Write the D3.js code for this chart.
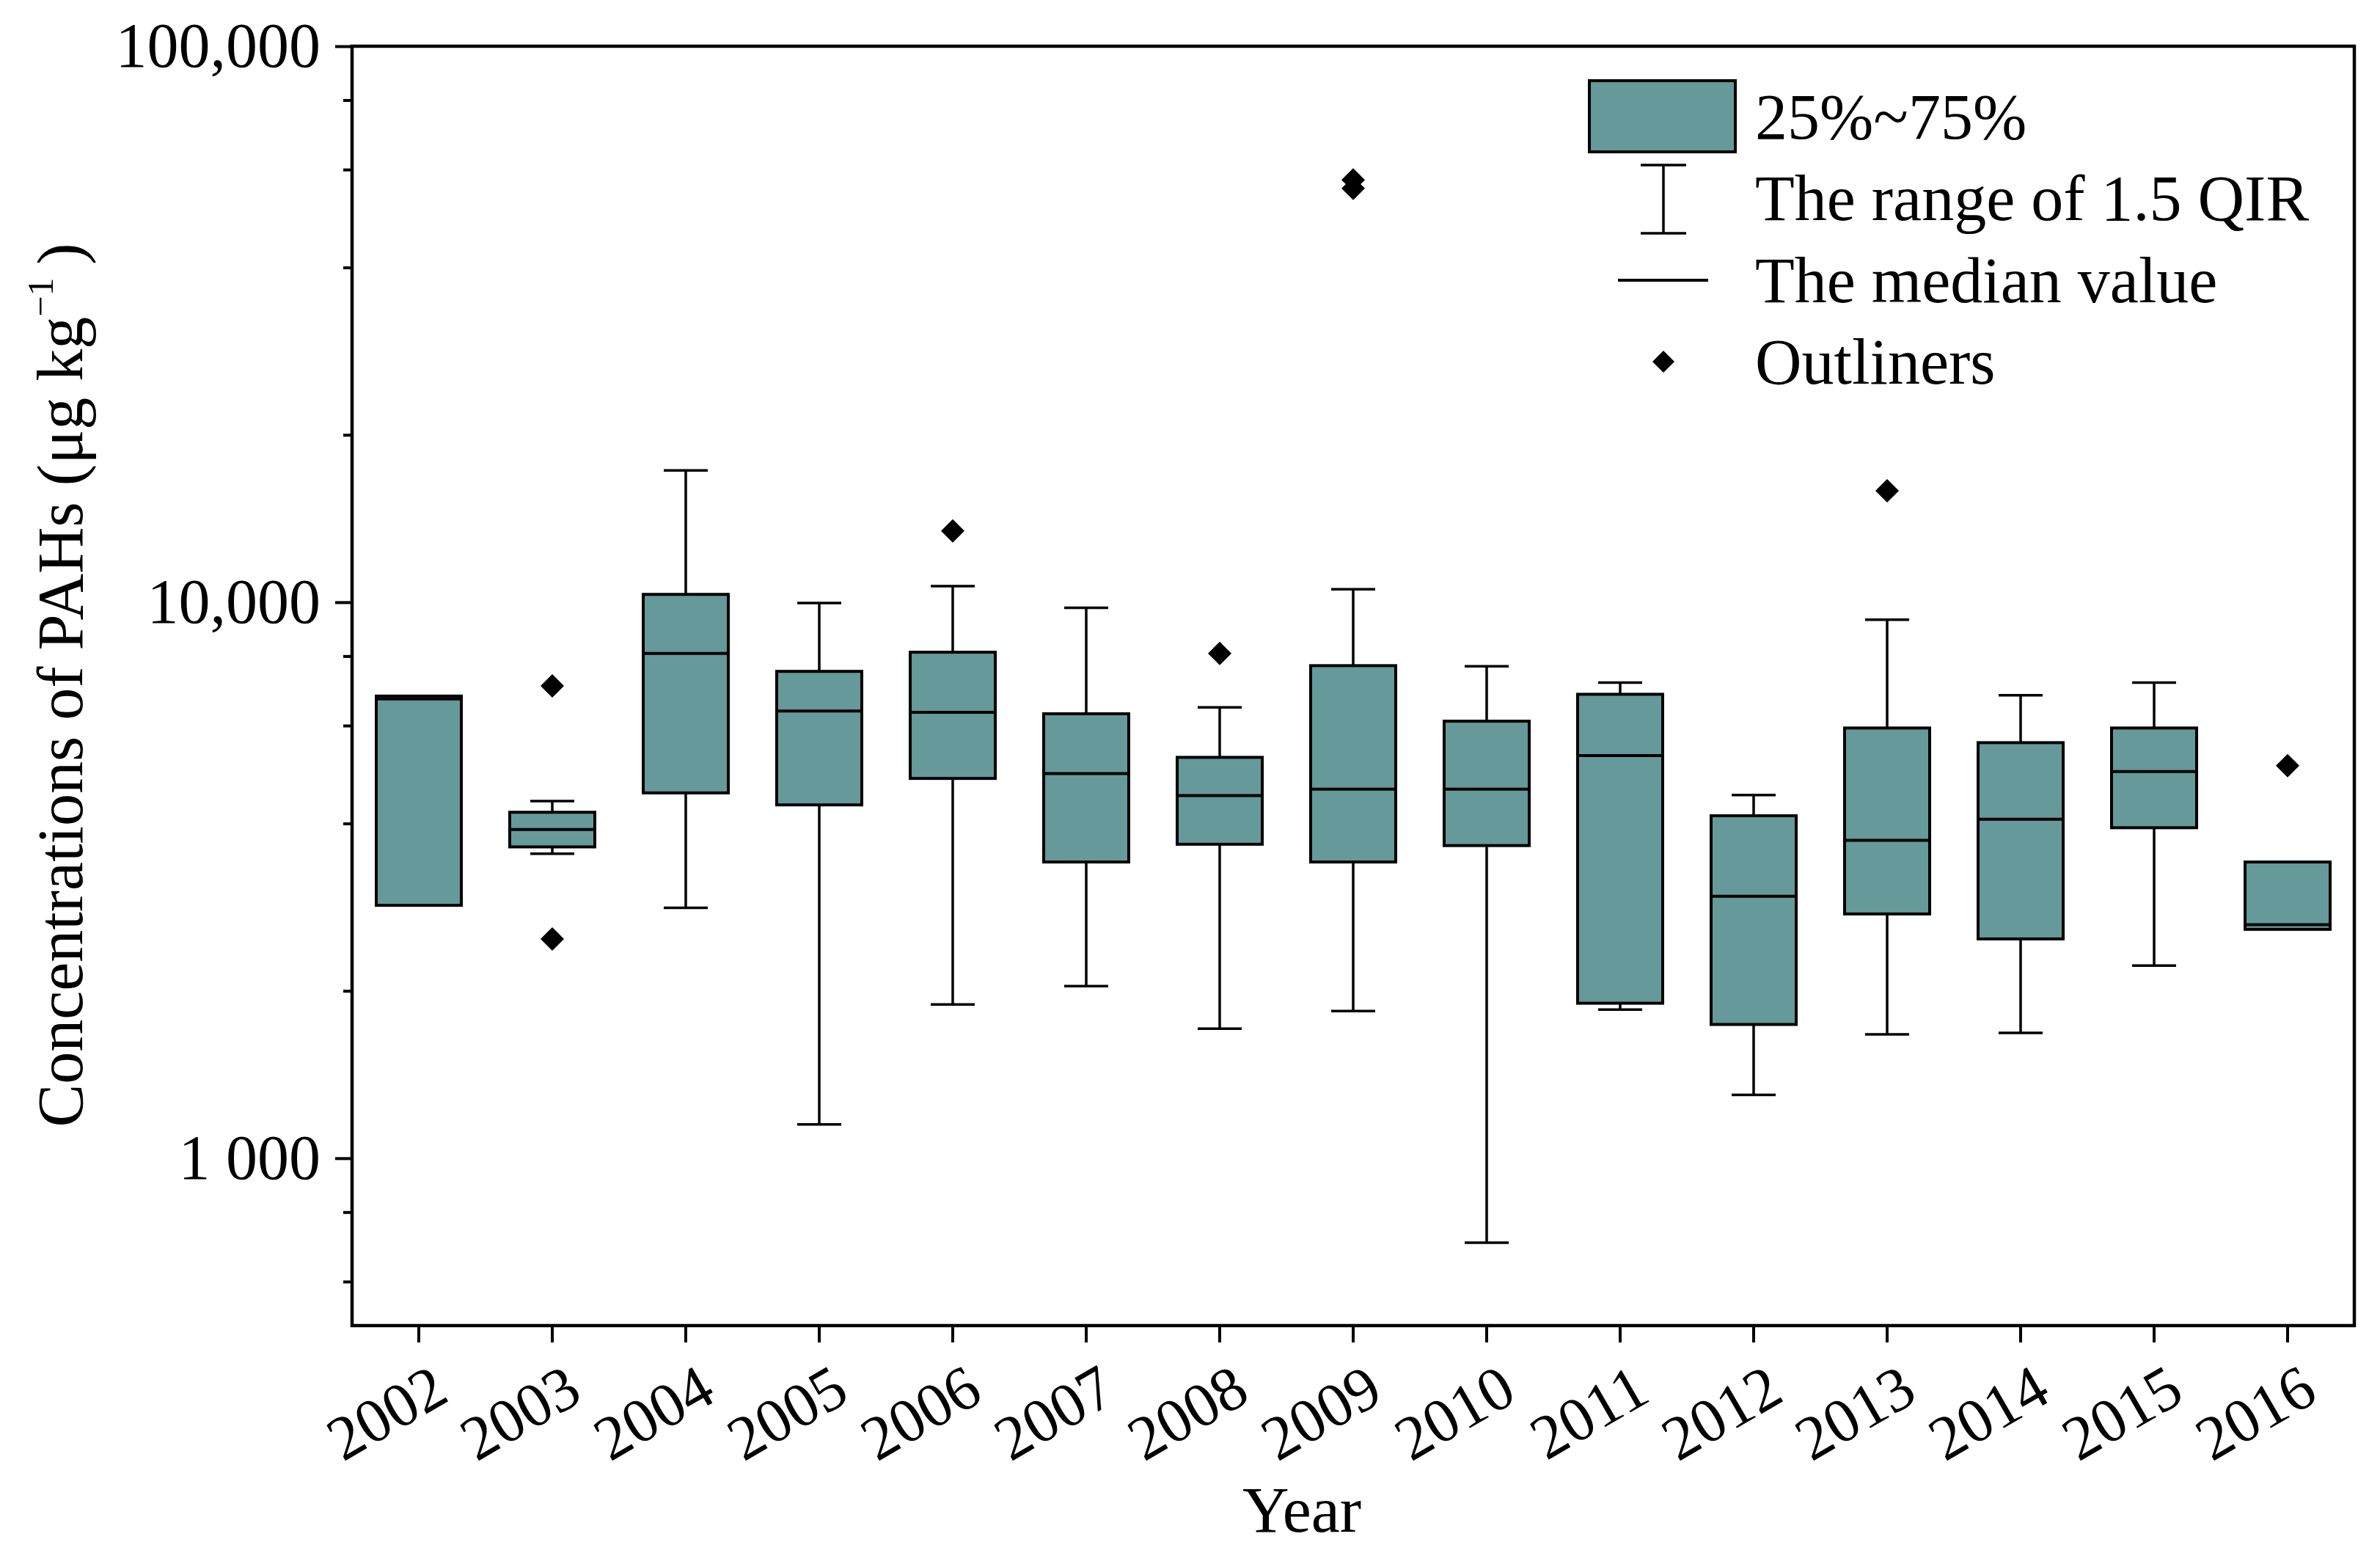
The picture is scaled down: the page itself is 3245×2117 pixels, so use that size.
<!DOCTYPE html>
<html>
<head>
<meta charset="utf-8">
<script src="https://cdn.jsdelivr.net/npm/d3@7"></script>
<style>
  body { margin: 0; background: #fff; }
  text { font-family: "Liberation Serif", "Times New Roman", serif; fill: #000; }
</style>
</head>
<body>
<svg id="chart"></svg>
<script>
// values (μg/kg)
const years = ["2002", "2003", "2004", "2005", "2006", "2007", "2008", "2009",
               "2010", "2011", "2012", "2013", "2014", "2015", "2016"];
const q3 =          [6780, 4190, 10330, 7510, 8130, 6300, 5260, 7690, 6110, 6830, 4130, 5940, 5590, 5940, 3410];
const median =      [6700, 3900,  8090, 6370, 6340, 4920, 4490, 4610, 4610, 5300, 2960, 3730, 4070, 4960, 2630];
const q1 =          [2850, 3630,  4540, 4320, 4820, 3410, 3670, 3410, 3650, 1900, 1740, 2750, 2480, 3930, 2580];
const whiskerHigh = [null, 4390, 17260, 9970, 10690, 9770, 6470, 10550, 7670, 7170, 4500, 9300, 6800, 7170, null];
const whiskerLow =  [null, 3530,  2820, 1150, 1890, 2040, 1710, 1840,  705, 1850, 1300, 1670, 1680, 2220, null];
const outlierYears =  ["2003", "2003", "2006", "2008", "2009", "2009", "2013", "2016"];
const outlierValues = [7070,   2480,   13430,  8090,   57500,  55500,  15870,  5080];

const yMajor = [1000, 10000, 100000];
const yMajorLabels = ["1 000", "10,000", "100,000"];
const yMinor = [600, 800, 2000, 4000, 6000, 8000, 20000, 40000, 60000, 80000];
const legendLabels = ["25%~75%", "The range of 1.5 QIR", "The median value", "Outliners"];

const W = 3245, H = 2117;
const pLeft = 480, pRight = 3210, pTop = 63, pBottom = 1807;
const fill = "#669999";

const svg = d3.select("#chart").attr("width", W).attr("height", H);
svg.append("rect").attr("width", W).attr("height", H).attr("fill", "#fff");

const x = d3.scaleBand().domain(years).range([pLeft, pRight]).padding(0);
const y = d3.scaleLog().domain([500, 100000]).range([pBottom, pTop]);

const boxW = 116, capW = 60;

// boxes
const g = svg.append("g");
years.forEach((yr, i) => {
  const cx = x(yr) + x.bandwidth() / 2;
  if (whiskerHigh[i] != null) {
    g.append("line").attr("x1", cx).attr("x2", cx)
      .attr("y1", y(whiskerHigh[i])).attr("y2", y(q3[i]))
      .attr("stroke", "#000").attr("stroke-width", 3.5);
    g.append("line").attr("x1", cx - capW / 2).attr("x2", cx + capW / 2)
      .attr("y1", y(whiskerHigh[i])).attr("y2", y(whiskerHigh[i]))
      .attr("stroke", "#000").attr("stroke-width", 3.5);
  }
  if (whiskerLow[i] != null) {
    g.append("line").attr("x1", cx).attr("x2", cx)
      .attr("y1", y(q1[i])).attr("y2", y(whiskerLow[i]))
      .attr("stroke", "#000").attr("stroke-width", 3.5);
    g.append("line").attr("x1", cx - capW / 2).attr("x2", cx + capW / 2)
      .attr("y1", y(whiskerLow[i])).attr("y2", y(whiskerLow[i]))
      .attr("stroke", "#000").attr("stroke-width", 3.5);
  }
  g.append("rect")
    .attr("x", cx - boxW / 2).attr("width", boxW)
    .attr("y", y(q3[i])).attr("height", y(q1[i]) - y(q3[i]))
    .attr("fill", fill).attr("stroke", "#000").attr("stroke-width", 4);
  g.append("line").attr("x1", cx - boxW / 2).attr("x2", cx + boxW / 2)
    .attr("y1", y(median[i])).attr("y2", y(median[i]))
    .attr("stroke", "#000").attr("stroke-width", 4);
});

const diamond = s => `M0,${-s}L${s},0L0,${s}L${-s},0Z`;
g.selectAll(".outlier").data(outlierValues).join("path")
  .attr("class", "outlier")
  .attr("d", diamond(16))
  .attr("transform", (d, i) => `translate(${x(outlierYears[i]) + x.bandwidth() / 2},${y(d)})`)
  .attr("fill", "#000");

// y axis
svg.append("g").attr("transform", `translate(${pLeft},0)`)
  .call(d3.axisLeft(y).tickValues(yMajor).tickFormat((d, i) => yMajorLabels[i]).tickSize(23).tickPadding(20))
  .call(a => a.select(".domain").remove())
  .call(a => a.selectAll("line").attr("stroke-width", 4))
  .call(a => a.selectAll("text").attr("font-size", 86).attr("font-family", "Liberation Serif"));
svg.append("g").attr("transform", `translate(${pLeft},0)`)
  .call(d3.axisLeft(y).tickValues(yMinor).tickFormat("").tickSize(12))
  .call(a => a.select(".domain").remove())
  .call(a => a.selectAll("line").attr("stroke-width", 4));

// x axis
const xa = svg.append("g").attr("transform", `translate(0,${pBottom})`)
  .call(d3.axisBottom(x).tickSize(23).tickSizeOuter(0))
  .call(a => a.select(".domain").remove())
  .call(a => a.selectAll("line").attr("stroke-width", 4));
xa.selectAll("text")
  .attr("font-size", 85).attr("font-family", "Liberation Serif")
  .attr("x", null).attr("y", null).attr("dy", null)
  .attr("text-anchor", "end")
  .attr("transform", "translate(44,101) rotate(-30)");

// frame
svg.append("rect").attr("x", pLeft).attr("y", pTop)
  .attr("width", pRight - pLeft).attr("height", pBottom - pTop)
  .attr("fill", "none").attr("stroke", "#000").attr("stroke-width", 4.5);

// axis titles
svg.append("text").attr("x", 1775).attr("y", 2088)
  .attr("text-anchor", "middle").attr("font-size", 88).text("Year");

const yt = svg.append("text")
  .attr("transform", "translate(112,934) rotate(-90)")
  .attr("text-anchor", "middle").attr("font-size", 88);
yt.append("tspan").text("Concentrations of PAHs (μg kg");
yt.append("tspan").attr("font-size", 50).attr("dy", -40).text("\u22121");
yt.append("tspan").attr("dy", 40).text("\u2009)");

// legend
const lg = svg.append("g");
lg.append("rect").attr("x", 2167).attr("y", 110).attr("width", 199).attr("height", 97)
  .attr("fill", fill).attr("stroke", "#000").attr("stroke-width", 4);
lg.append("line").attr("x1", 2268).attr("x2", 2268).attr("y1", 225).attr("y2", 318)
  .attr("stroke", "#000").attr("stroke-width", 3.5);
[225, 318].forEach(v => lg.append("line").attr("x1", 2237).attr("x2", 2299)
  .attr("y1", v).attr("y2", v).attr("stroke", "#000").attr("stroke-width", 3.5));
lg.append("line").attr("x1", 2206).attr("x2", 2329).attr("y1", 382).attr("y2", 382)
  .attr("stroke", "#000").attr("stroke-width", 4);
lg.append("path").attr("d", diamond(15)).attr("transform", "translate(2268,493)").attr("fill", "#000");
const legendY = [189, 300, 412, 523];
lg.selectAll(".lt").data(legendLabels).join("text")
  .attr("class", "lt")
  .attr("x", 2393).attr("y", (d, i) => legendY[i])
  .attr("font-size", 88).text(d => d);
</script>
</body>
</html>
